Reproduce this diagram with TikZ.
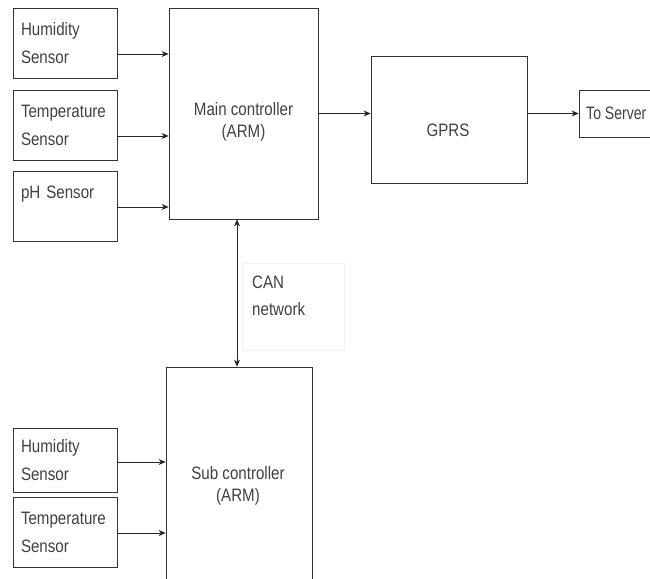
\documentclass[tikz,border=0pt]{standalone}
\usepackage{fontspec}
\setmainfont[FakeStretch=0.84]{Liberation Sans}
\usetikzlibrary{arrows.meta}
\begin{document}
\begin{tikzpicture}[x=1pt,y=-1pt,
  box/.style={draw=black!80, line width=0.8pt, rectangle, inner sep=0pt},
  sensor/.style={box, minimum width=104, minimum height=70, text width=88, inner xsep=8pt, align=left, text=black!75, font=\fontsize{18}{28}\selectfont},
  lbl/.style={inner sep=0pt, text=black!75, align=center, font=\fontsize{18}{22}\selectfont},
  tip/.style={-{Stealth[length=7pt,width=6pt]}},
  arr/.style={draw=black!85, line width=0.8pt, tip}]
\useasboundingbox (0,0) rectangle (650,578);
\clip (0,0) rectangle (650,578);
% sensors (top)
\node[sensor] (hum1) at (65,43.5) {Humidity\\Sensor};
\node[sensor] (tem1) at (65,125) {Temperature\\Sensor};
\node[sensor] (ph1) at (65,206) {pH Sensor\\~};
% main controller
\node[box, minimum width=149, minimum height=211] (main) at (243.5,113.5) {};
\node[lbl] (mainlbl) at (243.5,122) {Main controller\\(ARM)};
% GPRS
\node[box, minimum width=156, minimum height=127] (gprs) at (449,119.5) {};
\node[lbl] (gprslbl) at (448,130) {GPRS};
% To Server
\node[box, minimum width=90, minimum height=47] (server) at (624,113.5) {};
\node[lbl, anchor=west] (serverlbl) at (586,113) {\scalebox{0.93}[1]{To Server}};
% CAN label
\node[draw=black!5, line width=0.6pt, minimum width=102, minimum height=87, inner sep=0pt] (canbox) at (293,306.5) {};
\node[inner sep=0pt, text=black!75, align=left, font=\fontsize{18}{27}\selectfont, anchor=north west] (canlbl) at (252,276) {CAN\\network};
% sub controller
\node[box, minimum width=146, minimum height=233] (sub) at (239,483.5) {};
\node[lbl] (sublbl) at (238,486) {Sub controller\\(ARM)};
% sensors (bottom)
\node[sensor, minimum height=64] (hum2) at (65,460) {Humidity\\Sensor};
\node[sensor] (tem2) at (65,532) {Temperature\\Sensor};
% connectors
\draw[arr] ([yshift=-10.5pt]hum1.east) -- ([yshift=-10.5pt]hum1.east -| main.west);
\draw[arr] ([yshift=-11pt]tem1.east) -- ([yshift=-11pt]tem1.east -| main.west);
\draw[arr] ([yshift=-1pt]ph1.east) -- ([yshift=-1pt]ph1.east -| main.west);
\draw[arr] (main.east) -- (main.east -| gprs.west);
\draw[arr] (gprs.east |- server.west) -- (server.west);
\draw[arr, {Stealth[length=7pt,width=6pt]}-{Stealth[length=7pt,width=6pt]}] ([xshift=-6.5pt]main.south) -- ([xshift=-6.5pt]main.south |- sub.north);
\draw[arr] ([yshift=-2pt]hum2.east) -- ([yshift=-2pt]hum2.east -| sub.west);
\draw[arr] ([yshift=-1pt]tem2.east) -- ([yshift=-1pt]tem2.east -| sub.west);
\end{tikzpicture}
\end{document}
